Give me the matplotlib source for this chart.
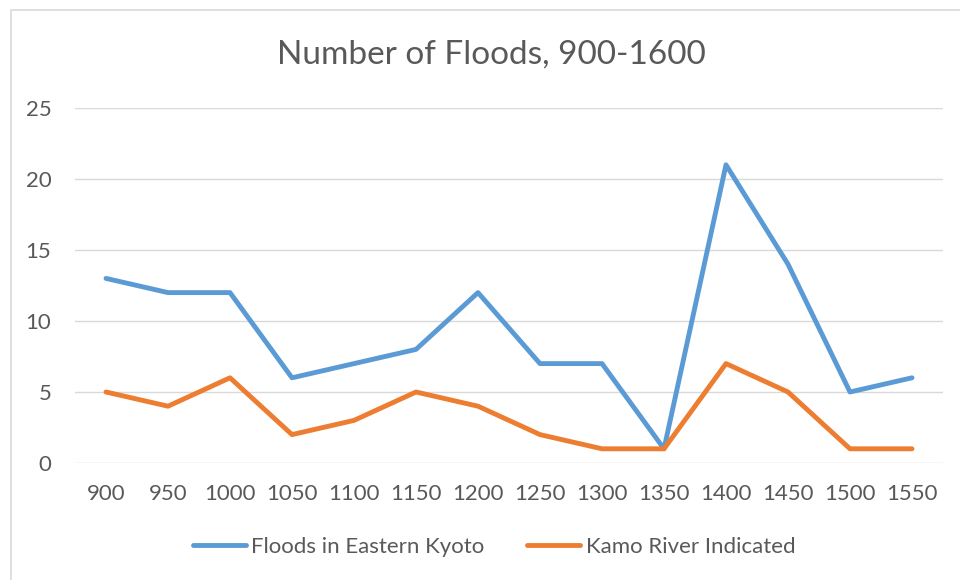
import matplotlib
matplotlib.use("Agg")
import matplotlib.pyplot as plt
from matplotlib.patches import Rectangle

years = ["900", "950", "1000", "1050", "1100", "1150", "1200",
         "1250", "1300", "1350", "1400", "1450", "1500", "1550"]
eastern_kyoto = [13, 12, 12, 6, 7, 8, 12, 7, 7, 1, 21, 14, 5, 6]
kamo_river = [5, 4, 6, 2, 3, 5, 4, 2, 1, 1, 7, 5, 1, 1]

text_color = "#595959"
grid_color = "#d9d9d9"
plt.rcParams["font.family"] = ["Lato", "DejaVu Sans"]

fig = plt.figure(figsize=(9.6, 5.8), dpi=100)
fig.patches.append(Rectangle((11 / 960, -0.01), 1.0, 1 - 10 / 580 + 0.01,
                             transform=fig.transFigure, fill=False,
                             edgecolor=grid_color, linewidth=1.2))

ax = fig.add_axes([75 / 960, 1 - 463 / 580, (943 - 75) / 960, (463 - 108) / 580])
x = list(range(len(years)))
ax.plot(x, eastern_kyoto, color="#5B9BD5", linewidth=3.5,
        solid_capstyle="round", solid_joinstyle="round", label="Floods in Eastern Kyoto")
ax.plot(x, kamo_river, color="#ED7D31", linewidth=3.5,
        solid_capstyle="round", solid_joinstyle="round", label="Kamo River Indicated")

ax.set_xlim(-0.5, len(years) - 0.5)
ax.set_ylim(0, 25)
ax.set_yticks(range(0, 26, 5))
ax.set_xticks(x)
ax.set_xticklabels(years)
ax.grid(axis="y", color=grid_color, linewidth=1)
ax.set_axisbelow(True)
for s in ax.spines.values():
    s.set_visible(False)
ax.tick_params(length=0, labelsize=16, labelcolor=text_color)
ax.tick_params(axis="x", pad=15)
ax.tick_params(axis="y", pad=17)

fig.text(491 / 960, 1 - 55 / 580, "Number of Floods, 900-1600", ha="center", va="center",
         fontsize=24, color=text_color)

fig.legend(loc="center", bbox_to_anchor=(494 / 960, 1 - 547 / 580), ncol=2, frameon=False,
           fontsize=16, labelcolor=text_color, handlelength=2.4, handletextpad=0.25,
           columnspacing=1.9)

fig.savefig("out.png", dpi=100)
